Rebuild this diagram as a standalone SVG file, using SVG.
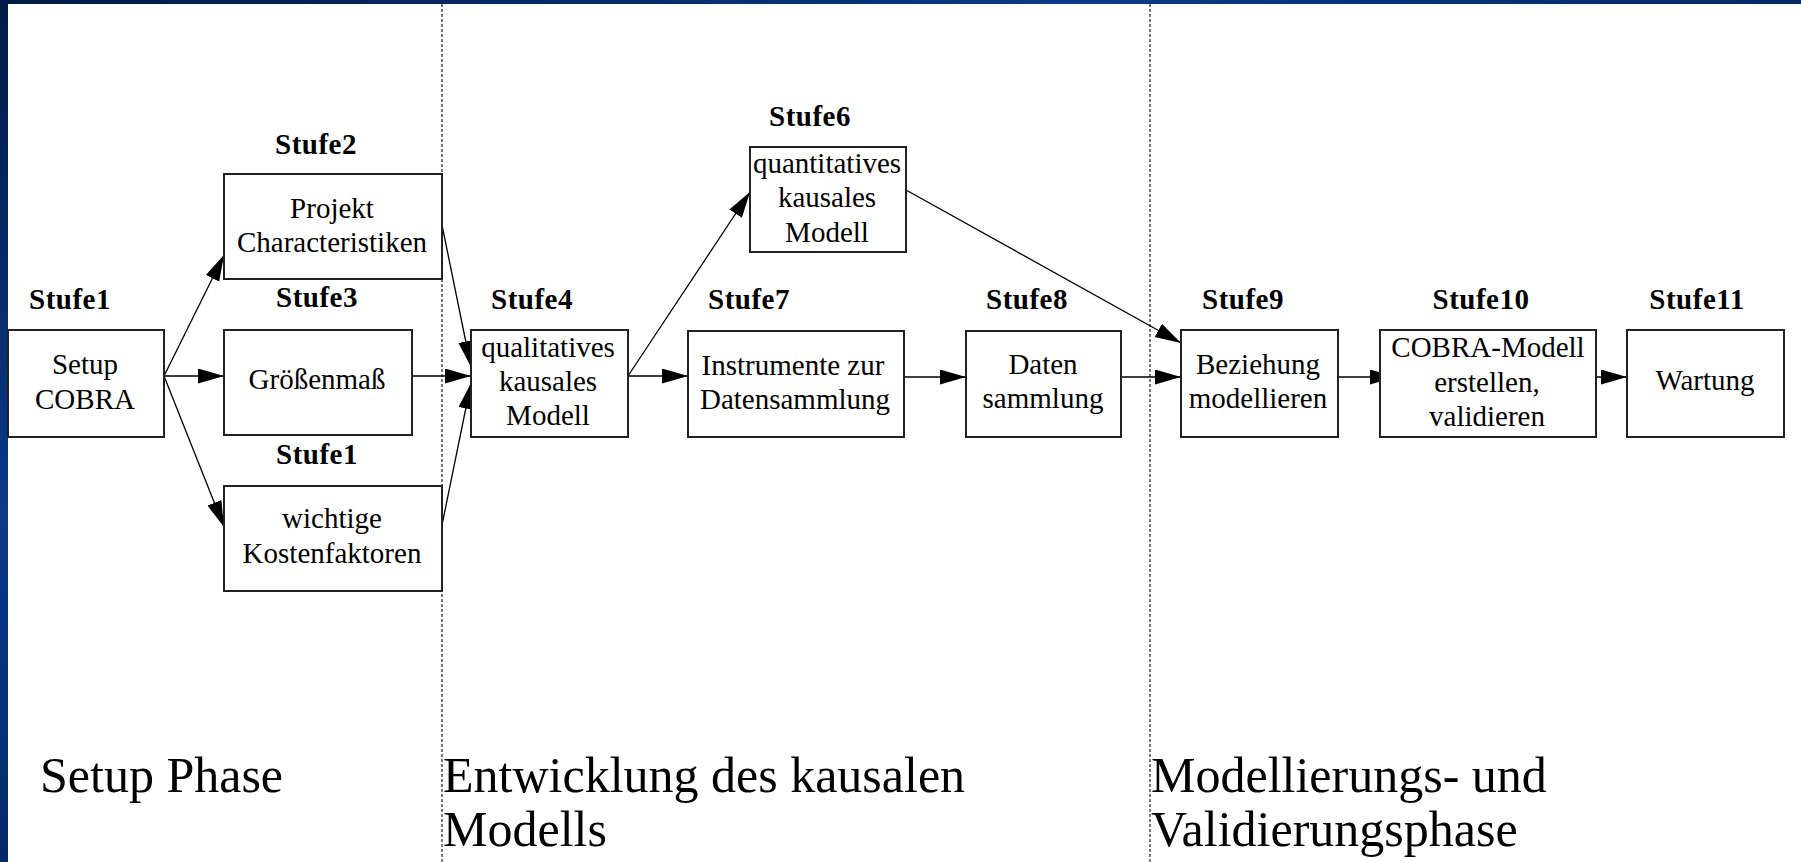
<svg xmlns="http://www.w3.org/2000/svg" width="1801" height="862" viewBox="0 0 1801 862">
<defs>
<linearGradient id="bg" x1="0" y1="0" x2="1" y2="1">
<stop offset="0" stop-color="#001a44"/>
<stop offset="0.3" stop-color="#0a3a8a"/>
<stop offset="0.6" stop-color="#00215a"/>
<stop offset="1" stop-color="#001535"/>
</linearGradient>
<marker id="ah" markerUnits="userSpaceOnUse" markerWidth="28" markerHeight="16" refX="26" refY="7.5" orient="auto">
<path d="M0,0 L26,7.5 L0,15 z" fill="#000"/>
</marker>
<style>
text{font-family:'Liberation Serif','Times New Roman',Times,'DejaVu Serif',serif}
.box{fill:#fff;stroke:#222;stroke-width:2}
.t{font-size:29px;fill:#000;text-anchor:middle}
.s{font-size:29px;font-weight:bold;fill:#000;text-anchor:middle;letter-spacing:0.5px}
.p{font-size:50px;fill:#000}
.c{stroke:#000;stroke-width:1.3;fill:none;marker-end:url(#ah)}
.div{stroke:#222;stroke-width:1.2;stroke-dasharray:3 2}
</style>
</defs>
<rect x="0" y="0" width="1801" height="862" fill="url(#bg)"/>
<rect x="8" y="4" width="1793" height="858" fill="#fff"/>

<g id="dividers">
<line class="div" x1="442" y1="4" x2="442" y2="862"/>
<line class="div" x1="1150" y1="4" x2="1150" y2="862"/>
</g>

<g id="phases" font-family="Liberation Serif, serif">
<text class="p" x="40" y="792">Setup Phase</text>
<text class="p" x="443" y="792">Entwicklung des kausalen</text>
<text class="p" x="443" y="846">Modells</text>
<text class="p" x="1151" y="792">Modellierungs- und</text>
<text class="p" x="1151" y="846">Validierungsphase</text>
</g>

<g id="connectors">
<line class="c" x1="164" y1="376" x2="224" y2="255"/>
<line class="c" x1="164" y1="376" x2="224" y2="376"/>
<line class="c" x1="164" y1="376" x2="224" y2="527"/>
<line class="c" x1="442" y1="225" x2="471" y2="367"/>
<line class="c" x1="411" y1="376" x2="471" y2="376"/>
<line class="c" x1="442" y1="525" x2="471" y2="383"/>
<line class="c" x1="628" y1="376" x2="750" y2="192"/>
<line class="c" x1="628" y1="376" x2="688" y2="376"/>
<line class="c" x1="906" y1="190" x2="1181" y2="343"/>
<line class="c" x1="904" y1="377" x2="966" y2="377"/>
<line class="c" x1="1121" y1="377" x2="1181" y2="377"/>
<line class="c" x1="1338" y1="377" x2="1396" y2="377"/>
<line class="c" x1="1583" y1="377" x2="1627" y2="377"/>
</g>

<g id="stufe1">
<text class="s" x="70" y="309">Stufe1</text>
<rect class="box" x="8" y="330" width="156" height="107"/>
<text class="t" x="85" y="374">Setup</text>
<text class="t" x="85" y="409">COBRA</text>
</g>

<g id="stufe2">
<text class="s" x="316" y="154">Stufe2</text>
<rect class="box" x="224" y="174" width="218" height="105"/>
<text class="t" x="332" y="218">Projekt</text>
<text class="t" x="332" y="252">Characteristiken</text>
</g>

<g id="stufe3">
<text class="s" x="317" y="307">Stufe3</text>
<rect class="box" x="224" y="330" width="188" height="105"/>
<text class="t" x="317" y="389">Größenmaß</text>
</g>

<g id="stufe1b">
<text class="s" x="317" y="464">Stufe1</text>
<rect class="box" x="224" y="486" width="218" height="105"/>
<text class="t" x="332" y="528">wichtige</text>
<text class="t" x="332" y="563">Kostenfaktoren</text>
</g>

<g id="stufe4">
<text class="s" x="532" y="309">Stufe4</text>
<rect class="box" x="471" y="330" width="157" height="107"/>
<text class="t" x="548" y="357">qualitatives</text>
<text class="t" x="548" y="391">kausales</text>
<text class="t" x="548" y="425">Modell</text>
</g>

<g id="stufe6">
<text class="s" x="810" y="126">Stufe6</text>
<rect class="box" x="750" y="147" width="156" height="105"/>
<text class="t" x="827" y="173">quantitatives</text>
<text class="t" x="827" y="207">kausales</text>
<text class="t" x="827" y="242">Modell</text>
</g>

<g id="stufe7">
<text class="s" x="749" y="309">Stufe7</text>
<rect class="box" x="688" y="331" width="216" height="106"/>
<text class="t" x="793" y="375">Instrumente zur</text>
<text class="t" x="795" y="409">Datensammlung</text>
</g>

<g id="stufe8">
<text class="s" x="1027" y="309">Stufe8</text>
<rect class="box" x="966" y="331" width="155" height="106"/>
<text class="t" x="1043" y="374">Daten</text>
<text class="t" x="1043" y="408">sammlung</text>
</g>

<g id="stufe9">
<text class="s" x="1243" y="309">Stufe9</text>
<rect class="box" x="1181" y="330" width="157" height="107"/>
<text class="t" x="1258" y="374">Beziehung</text>
<text class="t" x="1258" y="408">modellieren</text>
</g>

<g id="stufe10">
<text class="s" x="1481" y="309">Stufe10</text>
<rect class="box" x="1380" y="330" width="216" height="107"/>
<text class="t" x="1488" y="357">COBRA-Modell</text>
<text class="t" x="1487" y="392">erstellen,</text>
<text class="t" x="1487" y="426">validieren</text>
</g>

<g id="stufe11">
<text class="s" x="1697" y="309">Stufe11</text>
<rect class="box" x="1627" y="330" width="157" height="107"/>
<text class="t" x="1705" y="390">Wartung</text>
</g>
</svg>
